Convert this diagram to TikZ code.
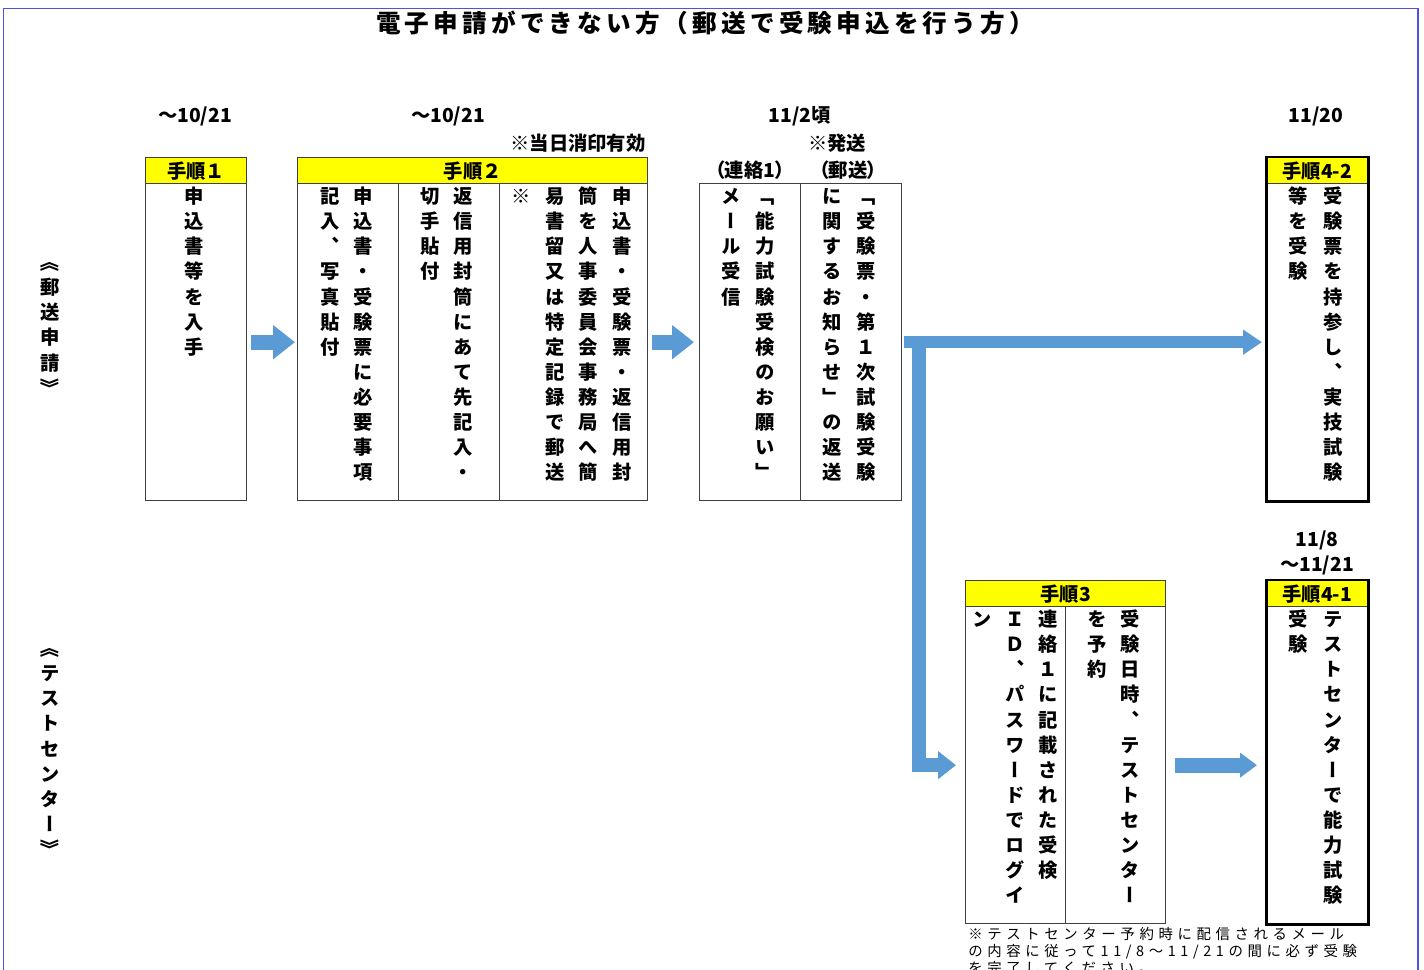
\documentclass[tikz,border=0pt]{standalone}
\usepackage{fontspec}
\usepackage{xcolor}
\usepackage{graphicx}
\usetikzlibrary{arrows.meta}
\newfontfamily\jp{Noto Sans CJK JP}[RawFeature=+palt]
\newfontfamily\jpt{Noto Sans CJK JP}
\newfontfamily\titlejp{Noto Sans CJK JP}[LetterSpace=17]
\newfontfamily\vjp{Noto Sans CJK JP}[RawFeature=+vert]
\newfontfamily\notejp{Noto Sans CJK JP}[LetterSpace=32]
\definecolor{hdryellow}{RGB}{255,255,0}
\definecolor{arrblue}{RGB}{91,155,213}
\definecolor{boxgray}{RGB}{64,64,64}
\definecolor{framecol}{RGB}{80,80,225}

% one character per row
\def\colstrut{\vrule width 0pt height 11.3pt depth 3pt}
\def\colloop#1{\ifx\relax#1\else\hbox to 1.2em{\hss\colstrut#1\hss}\expandafter\colloop\fi}
\newcommand\vcol[1]{\vbox{\offinterlineskip\colloop#1\relax}}
\newcommand\opnmark{\rotatebox[origin=c]{-90}{\jpt 《}}
\newcommand\clsmark{\rotatebox[origin=c]{-90}{\jpt 》}}

\begin{document}
\begin{tikzpicture}[x=0.02cm, y=-0.02cm]
\tikzset{hdr/.style={draw=boxgray, line width=0.8pt, fill=hdryellow,
                     anchor=north west, minimum height=0.52cm, inner sep=0pt,
                     font=\jpt\bfseries\fontsize{11}{11}\selectfont},
         bodybox/.style={draw=boxgray, line width=0.8pt, anchor=north west,
                     minimum height=6.34cm, inner sep=0pt},
         vtxt/.style={anchor=north, inner sep=0pt,
                     font=\vjp\bfseries\fontsize{11}{11}\selectfont},
         datelbl/.style={inner sep=0pt, font=\jp\bfseries\fontsize{11}{11}\selectfont},
         notelbl/.style={anchor=west, inner sep=0pt, font=\notejp\fontsize{8.2}{8.2}\selectfont},
         sidelbl/.style={anchor=north, inner sep=0pt,
                     font=\vjp\bfseries\fontsize{11}{11}\selectfont}}
\useasboundingbox (0,0) rectangle (1424,970);
\clip (0,0) rectangle (1424,970);

% frame and title
\draw[framecol, line width=1pt] (3.5,980) -- (3.5,8.5) -- (1418,8.5) -- (1418,980);
\node[font=\titlejp\bfseries\fontsize{14}{14}\selectfont] (title) at (705,23)
  {電子申請ができない方（郵送で受験申込を行う方）};

% side labels
\node[sidelbl] (s1) at (50,249.4) {\vcol{{\opnmark}郵送申請{\clsmark}}};
\node[sidelbl] (s2) at (50,635.4) {\vcol{{\opnmark}テストセンター{\clsmark}}};

% dates
\node[datelbl] (d1) at (195,116) {～10/21};
\node[datelbl] (d2) at (448,116) {～10/21};
\node[datelbl] (d2n) at (578,143) {※当日消印有効};
\node[datelbl] (d3) at (800,116) {11/2頃};
\node[datelbl] (d3n) at (837,143) {※発送};
\node[datelbl] (d3a) at (750,170) {（連絡1）};
\node[datelbl] (d3b) at (848,170) {（郵送）};
\node[datelbl] (d42) at (1316,116) {11/20};
\node[datelbl] (d41a) at (1317,540) {11/8};
\node[datelbl] (d41b) at (1317,565) {～11/21};

% step 1
\node[hdr, minimum width=2.02cm] (h1) at (145,157) {手順１};
\node[bodybox, minimum width=2.02cm] (b1) at (145,183) {};
\node[vtxt] (t1) at (194,183.4) {\vcol{申込書等を入手}};

% step 2
\node[hdr, minimum width=7cm] (h2) at (297,157) {手順２};
\node[bodybox, minimum width=2.02cm] (b2a) at (297,183) {};
\node[bodybox, minimum width=2.02cm] (b2b) at (398,183) {};
\node[bodybox, minimum width=2.96cm] (b2c) at (499,183) {};
\node[vtxt] (t2a1) at (363,183.4) {\vcol{申込書・受験票に必要事項}};
\node[vtxt] (t2a2) at (330,183.4) {\vcol{記入、写真貼付}};
\node[vtxt] (t2b1) at (463,183.4) {\vcol{返信用封筒にあて先記入・}};
\node[vtxt] (t2b2) at (430,183.4) {\vcol{切手貼付}};
\node[vtxt] (t2c1) at (622,183.4) {\vcol{申込書・受験票・返信用封}};
\node[vtxt] (t2c2) at (588,183.4) {\vcol{筒を人事委員会事務局へ簡}};
\node[vtxt] (t2c3) at (555,183.4) {\vcol{易書留又は特定記録で郵送}};
\node[vtxt] (t2c4) at (521,183.4) {\vcol{※}};

% mail / post
\node[bodybox, minimum width=2.02cm] (r1) at (699,183) {};
\node[bodybox, minimum width=2.02cm] (r2) at (800,183) {};
\node[vtxt] (tr11) at (765,183.4) {\vcol{「能力試験受検のお願い」}};
\node[vtxt] (tr12) at (731,183.4) {\vcol{メール受信}};
\node[vtxt] (tr21) at (866,183.4) {\vcol{「受験票・第１次試験受験}};
\node[vtxt] (tr22) at (832,183.4) {\vcol{に関するお知らせ」の返送}};

% step 4-2
\node[hdr, minimum width=2.02cm] (h42) at (1266,157) {手順4-2};
\node[bodybox, minimum width=2.02cm] (b42) at (1266,183) {};
\draw[line width=1.7pt] (h42.north west) rectangle (b42.south east);
\node[vtxt] (t421) at (1333,183.4) {\vcol{受験票を持参し、実技試験}};
\node[vtxt] (t422) at (1298,183.4) {\vcol{等を受験}};

% step 3
\node[hdr, minimum width=4cm] (h3) at (965,580) {手順3};
\node[bodybox, minimum width=2cm] (b3a) at (965,606) {};
\node[bodybox, minimum width=2cm] (b3b) at (1065,606) {};
\node[vtxt] (t3a1) at (1048,606.4) {\vcol{連絡１に記載された受検}};
\node[vtxt] (t3a2) at (1015,606.4) {\vcol{ＩＤ、パスワードでログイ}};
\node[vtxt] (t3a3) at (982,606.4) {\vcol{ン}};
\node[vtxt] (t3b1) at (1130,606.4) {\vcol{受験日時、テストセンター}};
\node[vtxt] (t3b2) at (1097,606.4) {\vcol{を予約}};
\node[notelbl] (n1) at (968,934) {※テストセンター予約時に配信されるメール};
\node[notelbl] (n2) at (968,952) {の内容に従って11/8～11/21の間に必ず受験};
\node[notelbl] (n3) at (968,968) {を完了してください。};

% step 4-1
\node[hdr, minimum width=2.02cm] (h41) at (1266,580) {手順4-1};
\node[bodybox, minimum width=2.02cm] (b41) at (1266,606) {};
\draw[line width=1.7pt] (h41.north west) rectangle (b41.south east);
\node[vtxt] (t411) at (1333,606.4) {\vcol{テストセンターで能力試験}};
\node[vtxt] (t412) at (1298,606.4) {\vcol{受験}};

\tikzset{bigarrow/.style={arrblue, line width=8.5pt,
                          -{Triangle[length=0.44cm,width=0.66cm]}},
         thinarrow/.style={arrblue, line width=6.8pt,
                          -{Triangle[length=0.38cm,width=0.48cm]}},
         brancharrow/.style={arrblue, line width=7.9pt,
                          -{Triangle[length=0.36cm,width=0.54cm]}},
         midarrow/.style={arrblue, line width=8.5pt,
                          -{Triangle[length=0.34cm,width=0.48cm]}}}

% arrows
\draw[bigarrow, shorten <=0.08cm, shorten >=0.04cm] (b1) -- (b2a);
\draw[bigarrow, shorten <=0.08cm, shorten >=0.1cm] (b2c) -- (r1);
\coordinate (fork) at (919,341.5);
\draw[thinarrow, shorten <=0.04cm, shorten >=0.08cm] (r2) -- (b42);
\draw[brancharrow, shorten >=0.18cm] (fork) |- (b3a);
\draw[midarrow, shorten <=0.18cm, shorten >=0.18cm] (b3b) -- (b41);

\end{tikzpicture}
\end{document}
